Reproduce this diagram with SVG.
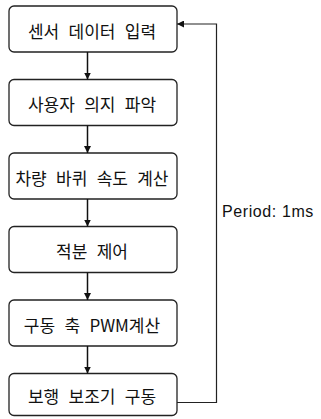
<svg xmlns="http://www.w3.org/2000/svg" width="321" height="419" viewBox="0 0 321 419">
<defs>
<style>
.box{fill:#fff;stroke:#222;stroke-width:1.3}
.lbl{font-family:"Noto Sans CJK KR","Noto Sans",sans-serif;font-size:17px;fill:#111;text-anchor:middle;dominant-baseline:central;word-spacing:5.5px}
.ln{fill:none;stroke:#111;stroke-width:1.5}
.fb{fill:none;stroke:#222;stroke-width:1.2}
.note{font-family:"Liberation Sans",Arial,sans-serif;font-size:16px;fill:#111;letter-spacing:0.6px}
</style>
<marker id="ah" viewBox="0 0 10 10" refX="10" refY="5" markerWidth="7" markerHeight="7" markerUnits="userSpaceOnUse" orient="auto">
<path d="M0,0 L10,5 L0,10 z" fill="#111"/>
</marker>
</defs>
<rect width="321" height="419" fill="#fff"/>
<g id="n1"><rect class="box" x="9" y="6" width="168" height="46" rx="5"/><text class="lbl" x="92" y="30">센서 데이터 입력</text></g>
<g id="n2"><rect class="box" x="9" y="79.5" width="168" height="46" rx="5"/><text class="lbl" x="92" y="103.5">사용자 의지 파악</text></g>
<g id="n3"><rect class="box" x="9" y="153" width="168" height="46" rx="5"/><text class="lbl" x="92" y="177">차량 바퀴 속도 계산</text></g>
<g id="n4"><rect class="box" x="9" y="226.5" width="168" height="46" rx="5"/><text class="lbl" x="92" y="250.5">적분 제어</text></g>
<g id="n5"><rect class="box" x="9" y="300" width="168" height="46" rx="5"/><text class="lbl" x="92" y="324">구동 축 PWM계산</text></g>
<g id="n6"><rect class="box" x="9" y="373.5" width="168" height="42" rx="5"/><text class="lbl" x="92" y="395.5">보행 보조기 구동</text></g>
<g id="connectors">
<line class="ln" x1="87.5" y1="52" x2="87.5" y2="79.5" marker-end="url(#ah)"/>
<line class="ln" x1="87.5" y1="125.5" x2="87.5" y2="153" marker-end="url(#ah)"/>
<line class="ln" x1="87.5" y1="199" x2="87.5" y2="226.5" marker-end="url(#ah)"/>
<line class="ln" x1="87.5" y1="272.5" x2="87.5" y2="300" marker-end="url(#ah)"/>
<line class="ln" x1="87.5" y1="346" x2="87.5" y2="373.5" marker-end="url(#ah)"/>
<polyline class="fb" points="177,402.5 216.5,402.5 216.5,24 177,24" marker-end="url(#ah)"/>
</g>
<text class="note" x="222" y="217">Period: 1ms</text>
</svg>
